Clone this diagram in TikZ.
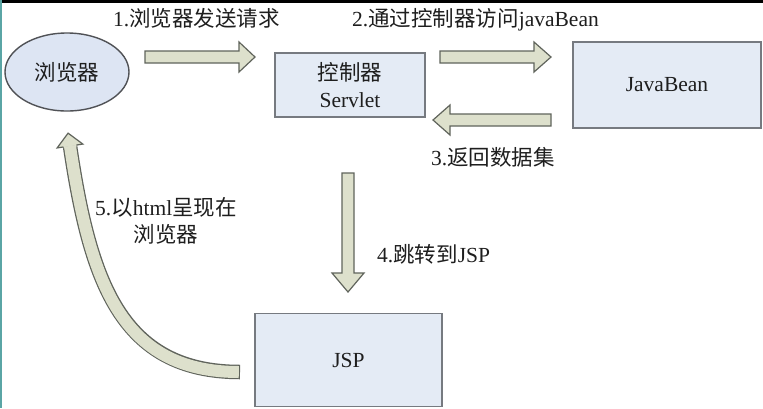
\documentclass[tikz,border=0pt]{standalone}
\usepackage{fontspec}
\setmainfont{Liberation Serif}
\newfontfamily\cjk{Noto Sans CJK SC}
\usetikzlibrary{calc,shapes.geometric}
\definecolor{arrowfill}{RGB}{221,224,204}
\definecolor{arrowline}{RGB}{96,100,92}
\definecolor{boxfill}{RGB}{228,235,245}
\definecolor{boxline}{RGB}{118,122,128}
\definecolor{ellfill}{RGB}{221,229,243}
\definecolor{ellline}{RGB}{80,82,86}
\definecolor{edgeteal}{RGB}{90,165,165}
\definecolor{txt}{RGB}{30,30,30}
\newcommand\rarrow[4]{% tail x, head base x, tip x, centre y
  \draw[blk] (#1,#4-6) -- (#2,#4-6) -- (#2,#4-15) -- (#3,#4) -- (#2,#4+15) -- (#2,#4+6) -- (#1,#4+6) -- cycle;}
\newcommand\darrow[4]{% centre x, tail y, head base y, tip y
  \draw[blk] (#1-6,#2) -- (#1-6,#3) -- (#1-16,#3) -- (#1,#4) -- (#1+16,#3) -- (#1+6,#3) -- (#1+6,#2) -- cycle;}
\begin{document}
\begin{tikzpicture}[x=1pt,y=-1pt,
  every node/.style={font=\fontsize{21.5}{27}\selectfont, text=txt, inner sep=0pt},
  box/.style={draw=boxline, line width=1.4pt, fill=boxfill, align=center},
  blk/.style={draw=arrowline, line width=1.2pt, fill=arrowfill, line join=miter},
  lbl/.style={anchor=base west}]
\useasboundingbox (0,0) rectangle (763,408);
\fill[white] (0,0) rectangle (763,408);
\fill[black] (0,0) rectangle (763,3);
\fill[edgeteal] (0,0) rectangle (2,408);

% nodes
\node[ellipse, draw=ellline, line width=1.4pt, fill=ellfill, minimum width=124pt, minimum height=78pt] (browser) at (67,72) {\cjk 浏览器};
\node[box, minimum width=150pt, minimum height=64pt] (servlet) at (350,85) {{\cjk 控制器}\\Servlet};
\node[box, minimum width=188pt, minimum height=86pt] (bean) at (667,85) {JavaBean};
\node[box, minimum width=187pt, minimum height=93pt] (jsp) at (348.5,360) {JSP};

% labels
\node[lbl] (l1) at (113,26) {1.{\cjk 浏览器发送请求}};
\node[lbl] (l2) at (352,26) {2.{\cjk 通过控制器访问}javaBean};
\node[lbl] (l3) at (431,165) {3.{\cjk 返回数据集}};
\node[lbl] (l4) at (377,262) {4.{\cjk 跳转到}JSP};
\node[align=center] (l5) at (166,221) {5.{\cjk 以}html{\cjk 呈现在}\\{\cjk 浏览器}};

% block arrows
\rarrow{145}{239}{255}{57}
\rarrow{440}{534}{551}{57}
\rarrow{551}{450}{433}{120}
\darrow{348}{173}{273}{292}

% curved arrow 5
\coordinate (t5) at (240,372);
\coordinate (b5) at (70,146);
\coordinate (c5) at (90,280);
\draw[draw=arrowline, line width=14.5pt] (t5) .. controls (120,372) and (c5) .. (b5);
\draw[draw=arrowfill, line width=12pt, shorten <=1.2pt] (t5) .. controls (120,372) and (c5) .. (b5);
\coordinate (h5) at ($(b5)!-13pt!(c5)$);
\coordinate (r5) at ($(b5)!13pt!90:(c5)$);
\coordinate (lc5) at ($(b5)!13pt!-90:(c5)$);
\coordinate (ri5) at ($(b5)!6.6pt!90:(c5)$);
\coordinate (li5) at ($(b5)!6.6pt!-90:(c5)$);
\coordinate (rd5) at ($(ri5)!1pt!-90:(h5)$);
\fill[arrowfill] (ri5) -- (r5) -- (h5) -- (lc5) -- (li5) -- ($(li5)!1.5pt!(lc5)$) -- cycle;
\fill[arrowfill] (ri5) -- (li5) -- ($(li5)!1.5pt!90:(lc5)$) -- ($(ri5)!1.5pt!-90:(r5)$) -- cycle;
\draw[arrowline, line width=1.2pt, line join=miter] (ri5) -- (r5) -- (h5) -- (lc5) -- (li5);
\end{tikzpicture}
\end{document}
